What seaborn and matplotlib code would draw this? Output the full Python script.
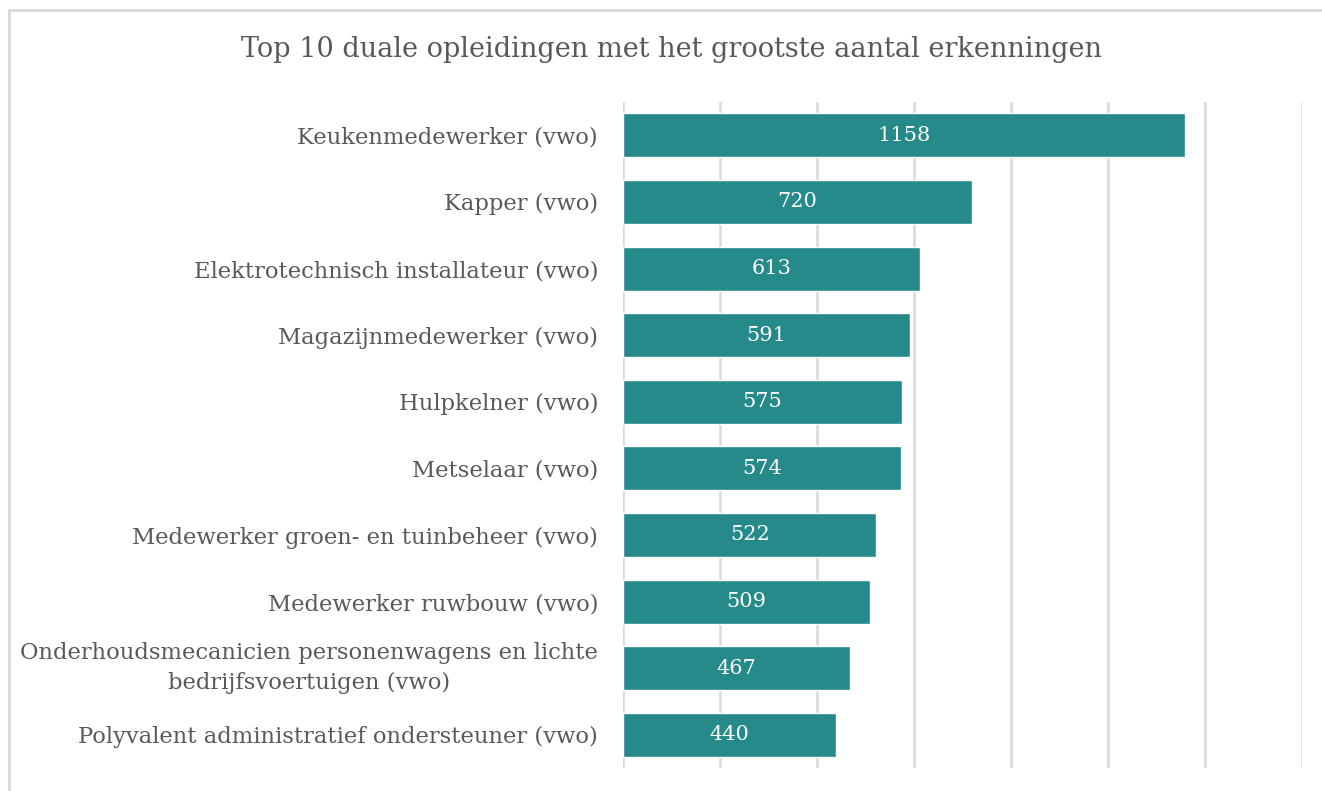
import pandas as pd
import matplotlib.pyplot as plt
import matplotlib.patches as mpatches
import seaborn as sns

# ----- data -----
opleidingen = [
    "Keukenmedewerker (vwo)",
    "Kapper (vwo)",
    "Elektrotechnisch installateur (vwo)",
    "Magazijnmedewerker (vwo)",
    "Hulpkelner (vwo)",
    "Metselaar (vwo)",
    "Medewerker groen- en tuinbeheer (vwo)",
    "Medewerker ruwbouw (vwo)",
    "Onderhoudsmecanicien personenwagens en lichte\nbedrijfsvoertuigen (vwo)",
    "Polyvalent administratief ondersteuner (vwo)",
]
erkenningen = [1158, 720, 613, 591, 575, 574, 522, 509, 467, 440]

df = pd.DataFrame({"opleiding": opleidingen, "erkenningen": erkenningen})

sns.set_style("white")
plt.rcParams["font.family"] = ["DejaVu Serif"]

fig = plt.figure(figsize=(13.22, 7.91), dpi=100)
ax = fig.add_axes([0.4713, 0.029, 0.5136, 0.842])

sns.barplot(data=df, y="opleiding", x="erkenningen", color="#268A8B",
            saturation=1, width=0.66, ax=ax, orient="h")

ax.bar_label(ax.containers[0], label_type="center", color="white", fontsize=15)

ax.set_xlim(0, 1400)
ax.set_xticks(range(0, 1401, 200))
ax.set_xticklabels([])
ax.tick_params(axis="both", length=0)
ax.grid(axis="x", color="#d9d9d9", linewidth=1.8)
ax.set_axisbelow(True)
for s in ax.spines.values():
    s.set_visible(False)
ax.set_xlabel("")
ax.set_ylabel("")
for lbl in ax.get_yticklabels():
    lbl.set_fontsize(16.3)
    lbl.set_color("#595959")
    lbl.set_multialignment("center")
    if "\n" in lbl.get_text():
        lbl.set_linespacing(1.5)
        lbl.set_verticalalignment("center")
ax.tick_params(axis="y", pad=18)

fig.text(0.508, 0.937, "Top 10 duale opleidingen met het grootste aantal erkenningen",
         ha="center", va="center", fontsize=19.5, color="#595959")

# chart frame
fig.patches.append(mpatches.Rectangle((9 / 1322, -0.1), 1.2, 1.1 - 10 / 791,
                                      transform=fig.transFigure, fill=False,
                                      edgecolor="#d9d9d9", linewidth=2))

fig.savefig("out.png", dpi=100)
